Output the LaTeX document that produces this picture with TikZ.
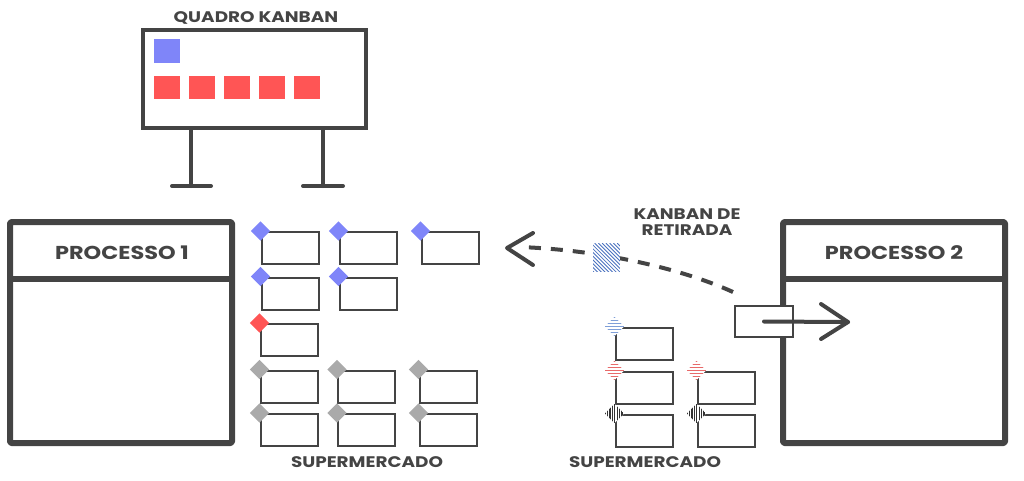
\documentclass[tikz,border=0pt]{standalone}
\usepackage{fontspec}
\setmainfont{Poppins}[FakeStretch=1.2]
\usetikzlibrary{shapes.geometric}
\definecolor{dk}{HTML}{444444}
\definecolor{kblue}{HTML}{7F85F9}
\definecolor{kred}{HTML}{FF5555}
\definecolor{kgray}{HTML}{AAAAAA}
\definecolor{hblue}{HTML}{4A72C0}
\definecolor{lblue}{HTML}{7F9FD8}
\definecolor{lred}{HTML}{E86A6A}
\tikzset{
  card/.style={draw=dk, line width=1.5pt, fill=white, minimum width=42.75pt, minimum height=24pt, inner sep=0pt},
  dia/.style={diamond, inner sep=0pt, minimum width=14.5pt, minimum height=14.5pt},
  sq/.style={inner sep=0pt, minimum width=19.5pt, minimum height=17.5pt},
  hatchH/.style={path picture={
    \foreach \k in {-7,-4.75,...,7}
      \draw[#1, line width=0.7pt] ([yshift=\k pt]path picture bounding box.west) -- ([yshift=\k pt]path picture bounding box.east);}},
  hatchV/.style={path picture={
    \foreach \k in {-7,-5.2,...,7}
      \draw[#1, line width=0.8pt] ([xshift=\k pt]path picture bounding box.north) -- ([xshift=\k pt]path picture bounding box.south);}},
  hatchD/.style={path picture={
    \foreach \k in {-24,-21.2,...,20}
      \draw[#1, line width=0.65pt] ([xshift=\k pt]path picture bounding box.north west) -- ++(24pt,-24pt);}},
  lbl/.style={text=dk, font=\bfseries\fontsize{11.5}{13}\selectfont, align=center},
  ttl/.style={text=dk, font=\bfseries\fontsize{14}{16}\selectfont},
  thick line/.style={draw=dk, line width=4.5pt, line join=round},
  board/.style={draw=dk, line width=3pt, line cap=round},
  conn/.style={draw=dk, line width=3pt, line cap=round, line join=round},
}
\begin{document}
\begin{tikzpicture}[x=0.75pt,y=-0.75pt]
\useasboundingbox (0,0) rectangle (1024,480);
% ---- Quadro Kanban
\node[lbl] (qt) at (256,18) {QUADRO KANBAN};
\draw[board] (143,30) rectangle (366,128);
\draw[board] (191,128) -- (191,186) (172,186) -- (211,186);
\draw[board] (323,128) -- (323,186) (303,186) -- (343,186);
\node[sq, fill=kblue] (b1) at (167,51) {};
\foreach \i/\x in {1/167,2/202,3/237,4/272,5/307}
  \node[sq, fill=kred] (r\i) at (\x,87.5) {};
% ---- Processo 1
\draw[thick line, rounded corners=1pt] (10,222) rectangle (232,443);
\draw[thick line] (10,279) -- (232,279);
\node[ttl] (p1) at (122,253) {PROCESSO 1};
% ---- Processo 2
\draw[thick line, rounded corners=1pt] (783,222) rectangle (1005,443);
\draw[thick line] (783,279) -- (1005,279);
\node[ttl] (p2) at (894,253) {PROCESSO 2};
% ---- Supermercado 1
\foreach \n/\x/\y/\c in {a/290/248/kblue, b/368/248/kblue, c/450/248/kblue,
    d/290/293.5/kblue, e/368/293.5/kblue,
    f/289/340/kred,
    g/289/386.5/kgray, h/366.5/386.5/kgray, i/448/386.5/kgray,
    j/289/430/kgray, k/366.5/430/kgray, l/448/430/kgray}{
  \node[card] (s\n) at (\x,\y) {};
  \node[dia, fill=\c] (d\n) at (s\n.north west) {};
}
\node[lbl] (sm1) at (367,462) {SUPERMERCADO};
% ---- Supermercado 2
\node[card] (t1) at (644,343.5) {};
\node[dia, fill=white, hatchH=lblue] (u1) at (t1.north west) {};
\node[card] (t2) at (644,387.5) {};
\node[dia, fill=white, hatchH=lred] (u2) at (t2.north west) {};
\node[card] (t3) at (644,430.5) {};
\node[dia, fill=white, hatchV=black!80] (u3) at (t3.north west) {};
\node[card] (t4) at (726,387.5) {};
\node[dia, fill=white, hatchH=lred] (u4) at (t4.north west) {};
\node[card] (t5) at (726,430.5) {};
\node[dia, fill=white, hatchV=black!80] (u5) at (t5.north west) {};
\node[lbl] (sm2) at (645,462) {SUPERMERCADO};
% ---- Kanban de retirada
\node[lbl, inner sep=0pt] (kr) at (687,222) {KANBAN DE\\[-1pt]RETIRADA};
\node[card, minimum width=43.5pt, minimum height=23.25pt] (ret) at (764,321.5) {};
\coordinate (ds) at (733,292);
\coordinate (de) at (520,247);
\coordinate (lt) at (507,248);
\draw[draw=dk, line width=3pt, dash pattern=on 9pt off 7.5pt] (ds) .. controls (680,268) and (600,250) .. (de);
\draw[conn] (533,233) -- (lt) -- (533,265);
\node[sq, minimum width=20pt, minimum height=21.5pt, fill=white, hatchD=hblue] (hk) at (606.5,257.5) {};
% ---- arrow into Processo 2
\coordinate (rt) at (848,322);
\draw[conn] (ret.center) -- (rt);
\draw[conn] (821,304) -- (rt) -- (821,339);
\end{tikzpicture}
\end{document}
